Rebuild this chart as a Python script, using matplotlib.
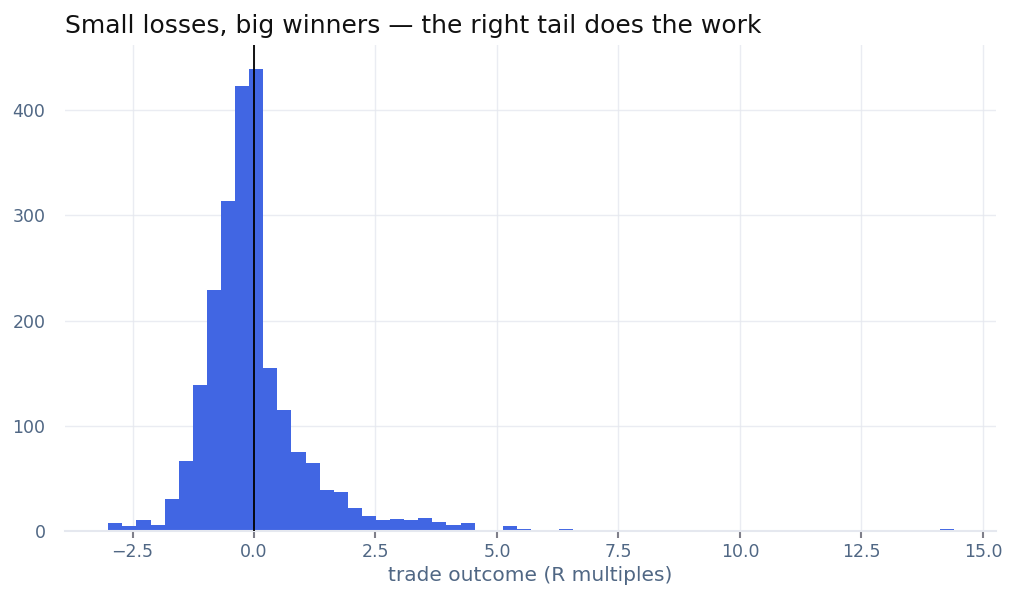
import numpy as np
import matplotlib

matplotlib.use("Agg")
import matplotlib.pyplot as plt

BIN_START = -3.0
BIN_WIDTH = 0.29
counts = [8, 5, 10, 6, 30, 67, 139, 229, 314, 423,
          439, 155, 115, 75, 65, 39, 37, 22, 14, 10,
          11, 10, 12, 9, 6, 8, 0, 0, 5, 2,
          1, 0, 2, 0, 1, 1, 1, 0, 1, 0,
          0, 1, 0, 0, 0, 0, 0, 0, 0, 0,
          0, 0, 0, 0, 0, 1, 0, 0, 0, 2]
x_ticks = [-2.5, 0, 2.5, 5, 7.5, 10, 12.5, 15]
x_labels = ["\u22122.5", "0.0", "2.5", "5.0", "7.5", "10.0", "12.5", "15.0"]
y_ticks = [0, 100, 200, 300, 400]

TICK_COLOR = "#506784"
GRID_COLOR = "#E5E8EF"

edges = BIN_START + BIN_WIDTH * np.arange(len(counts))

fig = plt.figure(figsize=(10.18, 6.09), dpi=100)
ax = fig.add_axes([65 / 1018, 1 - 531 / 609, 931 / 1018, 486 / 609])
ax.bar(edges, counts, width=BIN_WIDTH, align="edge", color="#4166E3", linewidth=0, zorder=2)
ax.grid(True, color=GRID_COLOR, linewidth=1, zorder=2.5, alpha=0.8)
ax.axvline(0, color="black", linewidth=1.3, zorder=3)

ax.set_xlim(-3.89, 15.27)
ax.set_ylim(0, 462)
ax.set_xticks(x_ticks)
ax.set_xticklabels(x_labels)
ax.set_yticks(y_ticks)
for side in ["top", "right", "left"]:
    ax.spines[side].set_visible(False)
ax.spines["bottom"].set_color(GRID_COLOR)
ax.spines["bottom"].set_linewidth(1.5)
ax.tick_params(axis="x", colors="#7f7f8a", labelcolor=TICK_COLOR, length=5, width=1.5, labelsize=12.5)
ax.tick_params(axis="y", length=0, labelcolor=TICK_COLOR, labelsize=12.5, pad=14)
ax.set_xlabel("trade outcome (R multiples)", color=TICK_COLOR, fontsize=14.5)
fig.text(65 / 1018, 1 - 26 / 609, "Small losses, big winners \u2014 the right tail does the work",
         fontsize=18, color="#111111", va="center", ha="left")

fig.savefig("out.png", dpi=100, facecolor="white")
